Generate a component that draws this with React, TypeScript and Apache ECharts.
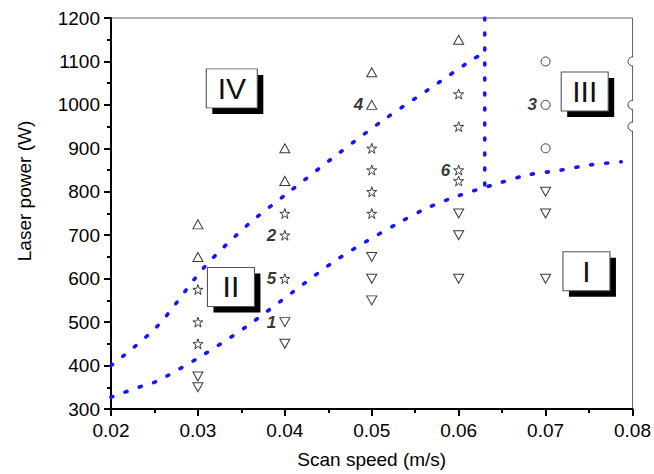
import React, { useEffect, useRef } from 'react';
import * as echarts from 'echarts';

// Observed process points (scan speed m/s, laser power W)
const upTriangles: [number, number][] = [
  [0.03, 725], [0.03, 650], [0.04, 900], [0.04, 825], [0.05, 1075], [0.05, 1000], [0.06, 1150],
];
const stars: [number, number][] = [
  [0.03, 575], [0.03, 500], [0.03, 450], [0.04, 750], [0.04, 700], [0.04, 600],
  [0.05, 900], [0.05, 850], [0.05, 800], [0.05, 750],
  [0.06, 1025], [0.06, 950], [0.06, 850], [0.06, 825],
];
const downTriangles: [number, number][] = [
  [0.03, 375], [0.03, 350], [0.04, 500], [0.04, 450], [0.05, 650], [0.05, 600], [0.05, 550],
  [0.06, 750], [0.06, 700], [0.06, 600], [0.07, 800], [0.07, 750], [0.07, 600],
];
const circles: [number, number][] = [[0.07, 1100], [0.07, 1000], [0.07, 900]];
const edgeCircles: [number, number][] = [[0.08, 1100], [0.08, 1000], [0.08, 950]];

// Boundary lines (blue dotted)
const upperBoundary: [number, number][] = [
  [0.02, 400], [0.0253, 490], [0.0308, 628], [0.0359, 727], [0.04, 792], [0.0463, 890],
  [0.0514, 966], [0.0565, 1035], [0.0617, 1106], [0.0625, 1114],
];
const lowerBoundary: [number, number][] = [
  [0.02, 327], [0.0236, 353], [0.0253, 364], [0.0304, 422], [0.0356, 490], [0.0409, 569],
  [0.0457, 640], [0.0494, 686], [0.0528, 725], [0.0562, 761], [0.0597, 789], [0.0648, 821],
  [0.068, 839], [0.0715, 849], [0.0752, 862], [0.0787, 869],
];
const verticalBoundary: [number, number][] = [[0.063, 1200], [0.063, 812]];

// Region labels
const regionNames = ['IV', 'II', 'III', 'I'];
const regionX = [0.0339, 0.0338, 0.0745, 0.0747];
const regionY = [1038, 581, 1031, 617];

// Case numbers
const caseLabels = ['1', '2', '3', '4', '5', '6'];
const caseX = [0.04, 0.04, 0.07, 0.05, 0.04, 0.06];
const caseY = [500, 700, 1000, 1000, 600, 850];

const FONT = "'Liberation Sans', Arial, sans-serif";
const STAR = 'path://M50,2 L61.8,36.2 L97.6,36.2 L68.6,57.4 L79.4,91.6 L50,70.4 L20.6,91.6 L31.4,57.4 L2.4,36.2 L38.2,36.2 Z';

export default function App() {
  const ref = useRef<HTMLDivElement>(null);
  useEffect(() => {
    if (!ref.current) return;
    const chart = echarts.init(ref.current, undefined, { renderer: 'svg' });
    const markerStyle = { color: '#ffffff', borderColor: '#3a3a3a', borderWidth: 1, opacity: 1 };
    const dotted = { color: '#1414ff', width: 3.6, type: [2, 13] as any, cap: 'round' as any };
    const regionData = regionNames.map((n, i) => ({
      value: [regionX[i], regionY[i]],
      name: n,
      symbolSize: n === 'IV' ? [51, 39] : [47, 39],
    }));
    chart.setOption({
      animation: false,
      grid: {
        left: 111, right: 20, top: 18, bottom: 64,
        show: true, borderColor: '#666', borderWidth: 1, backgroundColor: 'transparent',
      },
      graphic: [
        {
          type: 'text', x: 24, y: 191, rotation: Math.PI / 2, silent: true,
          style: {
            text: 'Laser power (W)', fontSize: 19, fill: '#000', fontFamily: FONT,
            align: 'center', verticalAlign: 'middle',
          },
        },
      ],
      xAxis: {
        type: 'value', min: 0.02, max: 0.08, interval: 0.01,
        name: 'Scan speed (m/s)', nameLocation: 'middle', nameGap: 41,
        nameTextStyle: { fontSize: 19, color: '#000', fontFamily: FONT },
        axisLine: { lineStyle: { color: '#000', width: 2 } },
        axisTick: { show: true, inside: false, length: 7, lineStyle: { color: '#000', width: 2 } },
        minorTick: { show: true, splitNumber: 2, length: 4, lineStyle: { color: '#000', width: 2 } },
        splitLine: { show: false },
        axisLabel: {
          fontSize: 19, color: '#000', fontFamily: FONT, margin: 12,
          formatter: (v: number) => v.toFixed(2),
        },
      },
      yAxis: {
        type: 'value', min: 300, max: 1200, interval: 100,
        axisLine: { show: true, lineStyle: { color: '#000', width: 2 } },
        axisTick: { show: true, inside: false, length: 7, lineStyle: { color: '#000', width: 2 } },
        minorTick: { show: true, splitNumber: 2, length: 4, lineStyle: { color: '#000', width: 2 } },
        splitLine: { show: false },
        axisLabel: {
          fontSize: 19, color: '#000', fontFamily: FONT, margin: 11,
          formatter: (v: number) => String(v),
        },
      },
      series: [
        { type: 'line', data: upperBoundary, smooth: 0.3, symbol: 'none', lineStyle: dotted, silent: true, z: 1 },
        { type: 'line', data: lowerBoundary, smooth: 0.3, symbol: 'none', lineStyle: dotted, silent: true, z: 1 },
        { type: 'line', data: verticalBoundary, symbol: 'none', lineStyle: dotted, silent: true, z: 1 },
        { type: 'scatter', data: upTriangles, symbol: 'triangle', symbolSize: [10, 9], itemStyle: markerStyle, silent: true, z: 3 },
        { type: 'scatter', data: downTriangles, symbol: 'triangle', symbolRotate: 180, symbolSize: [10, 9], itemStyle: markerStyle, silent: true, z: 3 },
        { type: 'scatter', data: stars, symbol: STAR, symbolSize: 10, itemStyle: markerStyle, silent: true, z: 3 },
        { type: 'scatter', data: circles, symbol: 'circle', symbolSize: 9, itemStyle: markerStyle, silent: true, z: 3 },
        {
          type: 'custom', data: edgeCircles, clip: true, silent: true, z: 3,
          encode: { x: 0, y: 1 },
          renderItem: (_p: any, api: any) => {
            const c = api.coord([api.value(0), api.value(1)]);
            return { type: 'circle', shape: { cx: c[0], cy: c[1], r: 4.5 }, style: { fill: '#fff', stroke: '#3a3a3a', lineWidth: 1 } };
          },
        },
        {
          type: 'scatter', data: regionData, symbol: 'rect', symbolOffset: [6, 6],
          itemStyle: { color: '#000', opacity: 1 }, silent: true, z: 5,
        },
        {
          type: 'scatter', data: regionData, symbol: 'rect',
          itemStyle: { color: '#fff', borderColor: '#555', borderWidth: 1, opacity: 1 }, silent: true, z: 6,
          label: { show: true, position: 'inside', formatter: '{b}', fontSize: 30, color: '#111', fontFamily: FONT },
        },
        {
          type: 'scatter', silent: true, z: 7,
          data: caseLabels.map((t, i) => ({ value: [caseX[i], caseY[i]], name: t })),
          symbolSize: 1, itemStyle: { color: 'transparent' },
          label: {
            show: true, position: 'left', distance: 8, formatter: '{b}',
            fontSize: 17, fontWeight: 'bold', fontStyle: 'italic', color: '#000', fontFamily: FONT,
          },
        },
      ],
    });
    return () => chart.dispose();
  }, []);
  return <div ref={ref} style={{ position: 'fixed', left: 0, top: 0, width: 654, height: 474, background: '#fff' }} />;
}
